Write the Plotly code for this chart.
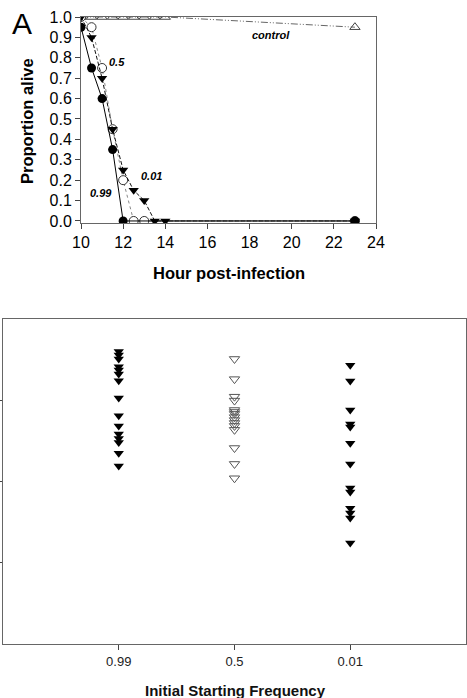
import plotly.graph_objects as go

W, H = 467, 698

# ---------- Panel A data ----------
x_099 = [10, 10.5, 11, 11.5, 12, 23]
y_099 = [0.95, 0.75, 0.60, 0.35, 0.0, 0.0]

x_05 = [10, 10.5, 11, 11.5, 12, 12.5, 13, 23]
y_05 = [1.0, 0.95, 0.75, 0.45, 0.20, 0.0, 0.0, 0.0]

x_001 = [10, 10.5, 11, 11.5, 12, 12.5, 13, 13.5, 14, 23]
y_001 = [1.0, 0.90, 0.70, 0.45, 0.25, 0.15, 0.10, 0.0, 0.0, 0.0]

x_ctrl = [10, 10.5, 11, 11.5, 12, 12.5, 13, 13.5, 14, 23]
y_ctrl = [1.0, 1.0, 1.0, 1.0, 1.0, 1.0, 1.0, 1.0, 1.0, 0.95]

a_xticks = [10, 12, 14, 16, 18, 20, 22, 24]
a_yticks = [0.0, 0.1, 0.2, 0.3, 0.4, 0.5, 0.6, 0.7, 0.8, 0.9, 1.0]

# ---------- Panel B data ----------
b_categories = ["0.99", "0.5", "0.01"]
b_pos = [1, 2, 3]
b_099 = [0.900, 0.889, 0.877, 0.853, 0.843, 0.831, 0.810, 0.757, 0.702, 0.671,
         0.646, 0.632, 0.620, 0.587, 0.548]
b_05 = [0.877, 0.815, 0.761, 0.749, 0.720, 0.714, 0.708, 0.698, 0.689, 0.680,
        0.671, 0.659, 0.603, 0.554, 0.510]
b_001 = [0.858, 0.809, 0.720, 0.677, 0.668, 0.618, 0.554, 0.480, 0.468, 0.418,
         0.403, 0.388, 0.311]

FONT = "Arial, Liberation Sans, sans-serif"


def px_x(p):
    return p / W


def px_y(p):
    return 1 - p / H


fig = go.Figure()

# Panel A traces
fig.add_trace(go.Scatter(x=x_ctrl, y=y_ctrl, mode="lines+markers",
                         line=dict(color="#666666", width=1, dash="7px,2px,1px,2px,1px,2px"),
                         marker=dict(symbol="triangle-up-open", size=9, color="#444444",
                                     line=dict(width=1)),
                         xaxis="x", yaxis="y", showlegend=False))
fig.add_trace(go.Scatter(x=x_05, y=y_05, mode="lines+markers",
                         line=dict(color="#888888", width=1, dash="dot"),
                         marker=dict(symbol="circle", size=9, color="white",
                                     line=dict(color="#333333", width=1)),
                         xaxis="x", yaxis="y", showlegend=False))
fig.add_trace(go.Scatter(x=x_001, y=y_001, mode="lines+markers",
                         line=dict(color="#111111", width=1, dash="4px,2px"),
                         marker=dict(symbol="triangle-down", size=9, color="black"),
                         xaxis="x", yaxis="y", showlegend=False))
fig.add_trace(go.Scatter(x=x_099, y=y_099, mode="lines+markers",
                         line=dict(color="black", width=1),
                         marker=dict(symbol="circle", size=9, color="black"),
                         xaxis="x", yaxis="y", showlegend=False))

# Panel B traces
fig.add_trace(go.Scatter(x=[b_pos[0]] * len(b_099), y=b_099, mode="markers",
                         marker=dict(symbol="triangle-down", size=9, color="black"),
                         xaxis="x2", yaxis="y2", showlegend=False))
fig.add_trace(go.Scatter(x=[b_pos[1]] * len(b_05), y=b_05, mode="markers",
                         marker=dict(symbol="triangle-down-open", size=9, color="#555555",
                                     line=dict(width=1)),
                         xaxis="x2", yaxis="y2", showlegend=False))
fig.add_trace(go.Scatter(x=[b_pos[2]] * len(b_001), y=b_001, mode="markers",
                         marker=dict(symbol="triangle-down", size=9, color="black"),
                         xaxis="x2", yaxis="y2", showlegend=False))

axis_common = dict(showgrid=False, zeroline=False, showline=True, linecolor="#666666",
                   linewidth=1, mirror=True, ticks="outside", tickcolor="#444444",
                   automargin=False)

fig.update_layout(
    template="none",
    width=W, height=H, margin=dict(l=0, r=0, t=0, b=0, pad=0),
    paper_bgcolor="white", plot_bgcolor="white",
    font=dict(family=FONT, color="black"),
    xaxis=dict(domain=[px_x(81), px_x(376)], range=[10, 24], tickvals=a_xticks,
               ticklen=5, tickfont=dict(size=16), anchor="y", **axis_common),
    yaxis=dict(domain=[px_y(223), px_y(17)], range=[-0.01, 1.0], tickvals=a_yticks,
               ticktext=[f"{v:.1f}" for v in a_yticks], ticklen=5,
               tickfont=dict(size=16), anchor="x", **axis_common),
    xaxis2=dict(domain=[px_x(3), px_x(466)], range=[0, 4], tickvals=b_pos,
                ticktext=b_categories, ticklen=5, tickfont=dict(size=13, color="#222222"),
                anchor="y2", **axis_common),
    yaxis2=dict(domain=[px_y(644), px_y(319)], range=[0, 1], tickvals=[0.25, 0.5, 0.75],
                showticklabels=False, ticklen=4, anchor="x2", **axis_common),
)

C = dict(xanchor="center", yanchor="middle", showarrow=False)
ann = [
    dict(text="A", x=px_x(22), y=px_y(23), xref="paper", yref="paper",
         font=dict(size=30, family=FONT), **C),
    dict(text="<b>Proportion alive</b>", x=px_x(27), y=px_y(121), xref="paper", yref="paper",
         textangle=-90, font=dict(size=16.5, family=FONT), **C),
    dict(text="<b>Hour post-infection</b>", x=px_x(229), y=px_y(273), xref="paper",
         yref="paper", font=dict(size=16.5, family=FONT), **C),
    dict(text="<b><i>0.5</i></b>", x=11.71, y=0.78, xref="x", yref="y",
         font=dict(size=11, family=FONT), **C),
    dict(text="<b><i>0.01</i></b>", x=13.33, y=0.22, xref="x", yref="y",
         font=dict(size=11, family=FONT), **C),
    dict(text="<b><i>0.99</i></b>", x=10.95, y=0.137, xref="x", yref="y",
         font=dict(size=11, family=FONT), **C),
    dict(text="<b><i>control</i></b>", x=19.0, y=0.91, xref="x", yref="y",
         font=dict(size=11, family=FONT), **C),
    dict(text="<b>Initial Starting Frequency</b>", x=px_x(235), y=px_y(690), xref="paper",
         yref="paper", font=dict(size=15, family=FONT, color="#111111"), **C),
]
fig.update_layout(annotations=ann)

fig.write_html("out.html", post_script="document.body.style.margin='0px';")
